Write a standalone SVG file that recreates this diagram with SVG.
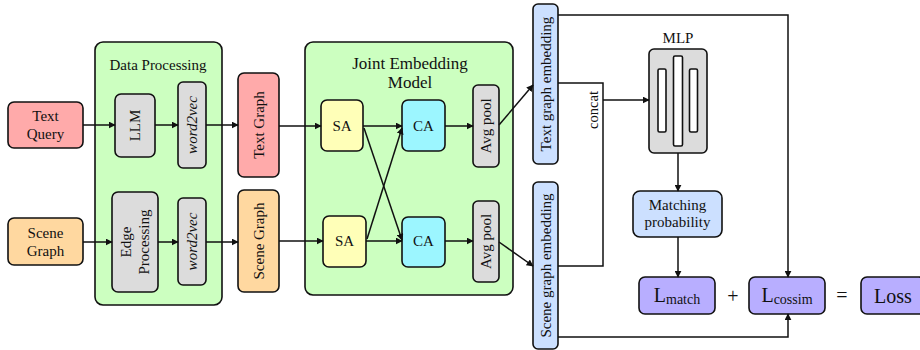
<svg xmlns="http://www.w3.org/2000/svg" width="920" height="350" viewBox="0 0 920 350">
<style>
text{font-family:"Liberation Serif","Times New Roman",serif;fill:#111;}
.b{stroke:#111;stroke-width:1.6;}
.t{font-size:15px;text-anchor:middle;dominant-baseline:central;}
.big{font-size:20px;}
.ttl{font-size:17px;}
.sm{font-size:14.5px;}
.it{font-style:italic;}
.c{fill:none;stroke:#111;stroke-width:1.5;}
.a{marker-end:url(#ar);}
.g{fill:#ccffc0;}
.gr{fill:#dcdcdc;}
.pk{fill:#ffaaaa;}
.or{fill:#ffd8a0;}
.ye{fill:#ffffb8;}
.cy{fill:#9cf6ff;}
.bl{fill:#cce0ff;}
.pu{fill:#b8aeff;}
</style>
<defs>
<marker id="ar" viewBox="0 0 10 10" refX="9" refY="5" markerWidth="7" markerHeight="7" markerUnits="userSpaceOnUse" orient="auto">
<path d="M0,0 L10,5 L0,10 z" fill="#111"/>
</marker>
</defs>
<rect width="920" height="350" fill="#fff"/>

<g id="data-processing"><rect class="b g" x="95" y="42" width="127" height="263" rx="8"/><text class="t" x="158" y="65">Data Processing</text></g>
<g id="joint-embedding"><rect class="b g" x="305" y="42" width="208" height="253" rx="8"/><text class="t ttl" x="410" y="63">Joint Embedding</text><text class="t ttl" x="410" y="82">Model</text></g>

<g id="text-query"><rect class="b pk" x="8" y="102" width="75" height="46" rx="6"/><text class="t" x="45.5" y="116">Text</text><text class="t" x="45.5" y="134">Query</text></g>
<g id="scene-graph-in"><rect class="b or" x="8" y="218" width="75" height="47" rx="6"/><text class="t" x="45.5" y="233">Scene</text><text class="t" x="45.5" y="251">Graph</text></g>

<g id="llm"><rect class="b gr" x="115" y="94" width="40" height="63" rx="6"/><text class="t" transform="translate(135,125.5) rotate(-90)">LLM</text></g>
<g id="word2vec-top"><rect class="b gr" x="178" y="82" width="28" height="86" rx="5"/><text class="t it" transform="translate(192,125) rotate(-90)">word2vec</text></g>
<g id="edge-processing"><rect class="b gr" x="112" y="192" width="46" height="100" rx="6"/><text class="t" transform="translate(126,242) rotate(-90)">Edge</text><text class="t" transform="translate(144,242) rotate(-90)">Processing</text></g>
<g id="word2vec-bottom"><rect class="b gr" x="178" y="198" width="28" height="87" rx="5"/><text class="t it" transform="translate(192,241.5) rotate(-90)">word2vec</text></g>

<g id="text-graph"><rect class="b pk" x="238" y="73" width="41" height="104" rx="6"/><text class="t" transform="translate(258.5,125) rotate(-90)">Text Graph</text></g>
<g id="scene-graph"><rect class="b or" x="238" y="190" width="41" height="102" rx="6"/><text class="t" transform="translate(258.5,241) rotate(-90)">Scene Graph</text></g>

<g id="sa-top"><rect class="b ye" x="321" y="100" width="42" height="51" rx="6"/><text class="t" x="342" y="126">SA</text></g>
<g id="sa-bottom"><rect class="b ye" x="323" y="216" width="43" height="51" rx="6"/><text class="t" x="344.5" y="241">SA</text></g>
<g id="ca-top"><rect class="b cy" x="402" y="100" width="43" height="51" rx="6"/><text class="t" x="423.5" y="126">CA</text></g>
<g id="ca-bottom"><rect class="b cy" x="402" y="217" width="43" height="50" rx="6"/><text class="t" x="423.5" y="241">CA</text></g>
<g id="avgpool-top"><rect class="b gr" x="473" y="85" width="26" height="82" rx="5"/><text class="t" transform="translate(486,126) rotate(-90)">Avg pool</text></g>
<g id="avgpool-bottom"><rect class="b gr" x="473" y="201" width="26" height="81" rx="5"/><text class="t" transform="translate(486,241.5) rotate(-90)">Avg pool</text></g>

<g id="text-embedding"><rect class="b bl" x="533" y="4" width="25" height="160" rx="5"/><text class="t" transform="translate(545.5,84) rotate(-90)">Text graph embedding</text></g>
<g id="scene-embedding"><rect class="b bl" x="533" y="182" width="25" height="167" rx="5"/><text class="t" transform="translate(545.5,265.5) rotate(-90)">Scene graph embedding</text></g>

<g id="mlp"><text class="t" x="678" y="38">MLP</text><rect class="b gr" x="649" y="49" width="58" height="104" rx="5"/>
<rect class="b" fill="#fff" x="658" y="69" width="8" height="63" rx="1.5" stroke-width="1.3"/>
<rect class="b" fill="#fff" x="673.5" y="56" width="9" height="90" rx="1.5" stroke-width="1.3"/>
<rect class="b" fill="#fff" x="689.5" y="69" width="8" height="63" rx="1.5" stroke-width="1.3"/></g>
<g id="matching"><rect class="b bl" x="633" y="191" width="89" height="46" rx="7"/><text class="t" x="677.5" y="205">Matching</text><text class="t" x="677.5" y="222">probability</text></g>
<g id="lmatch"><rect class="b pu" x="639" y="277" width="76" height="37" rx="6"/><text x="677" y="302" text-anchor="middle"><tspan style="font-size:20px">L</tspan><tspan style="font-size:14px" dy="2">match</tspan></text></g>
<g id="plus"><text class="t big" x="733" y="296">+</text></g>
<g id="lcossim"><rect class="b pu" x="749" y="277" width="76" height="37" rx="6"/><text x="787" y="302" text-anchor="middle"><tspan style="font-size:20px">L</tspan><tspan style="font-size:14px" dy="2">cossim</tspan></text></g>
<g id="equals"><text class="t big" x="842" y="295">=</text></g>
<g id="loss"><rect class="b pu" x="861" y="277" width="64" height="37" rx="6"/><text class="t big" x="893" y="295.5">Loss</text></g>

<g id="connectors">
<line class="c a" x1="83" y1="125" x2="115" y2="125"/>
<line class="c a" x1="155" y1="125" x2="178" y2="125"/>
<line class="c a" x1="206" y1="125" x2="238" y2="125"/>
<line class="c a" x1="279" y1="126" x2="321" y2="126"/>
<line class="c a" x1="363" y1="126" x2="402" y2="126"/>
<line class="c a" x1="445" y1="126" x2="473" y2="126"/>
<line class="c a" x1="499" y1="125" x2="533" y2="85"/>
<line class="c a" x1="83" y1="242" x2="112" y2="242"/>
<line class="c a" x1="158" y1="242" x2="178" y2="242"/>
<line class="c a" x1="206" y1="242" x2="238" y2="242"/>
<line class="c a" x1="279" y1="241" x2="323" y2="241"/>
<line class="c a" x1="366" y1="241" x2="402" y2="241"/>
<line class="c a" x1="445" y1="241" x2="473" y2="241"/>
<line class="c a" x1="499" y1="242" x2="533" y2="266"/>
<line class="c a" x1="364" y1="128" x2="402" y2="240"/>
<line class="c a" x1="367" y1="239" x2="402" y2="128"/>
<polyline class="c a" points="558,15 788,15 788,277"/>
<polyline class="c" points="558,83 603,83 603,266 558,266"/>
<line class="c a" x1="603" y1="100" x2="649" y2="100"/>
<line class="c a" x1="678" y1="153" x2="678" y2="191"/>
<line class="c a" x1="678" y1="237" x2="678" y2="277"/>
<polyline class="c a" points="558,337 788,337 788,314"/>
<text class="t sm" transform="translate(593,110) rotate(-90)">concat</text>
</g>
</svg>
